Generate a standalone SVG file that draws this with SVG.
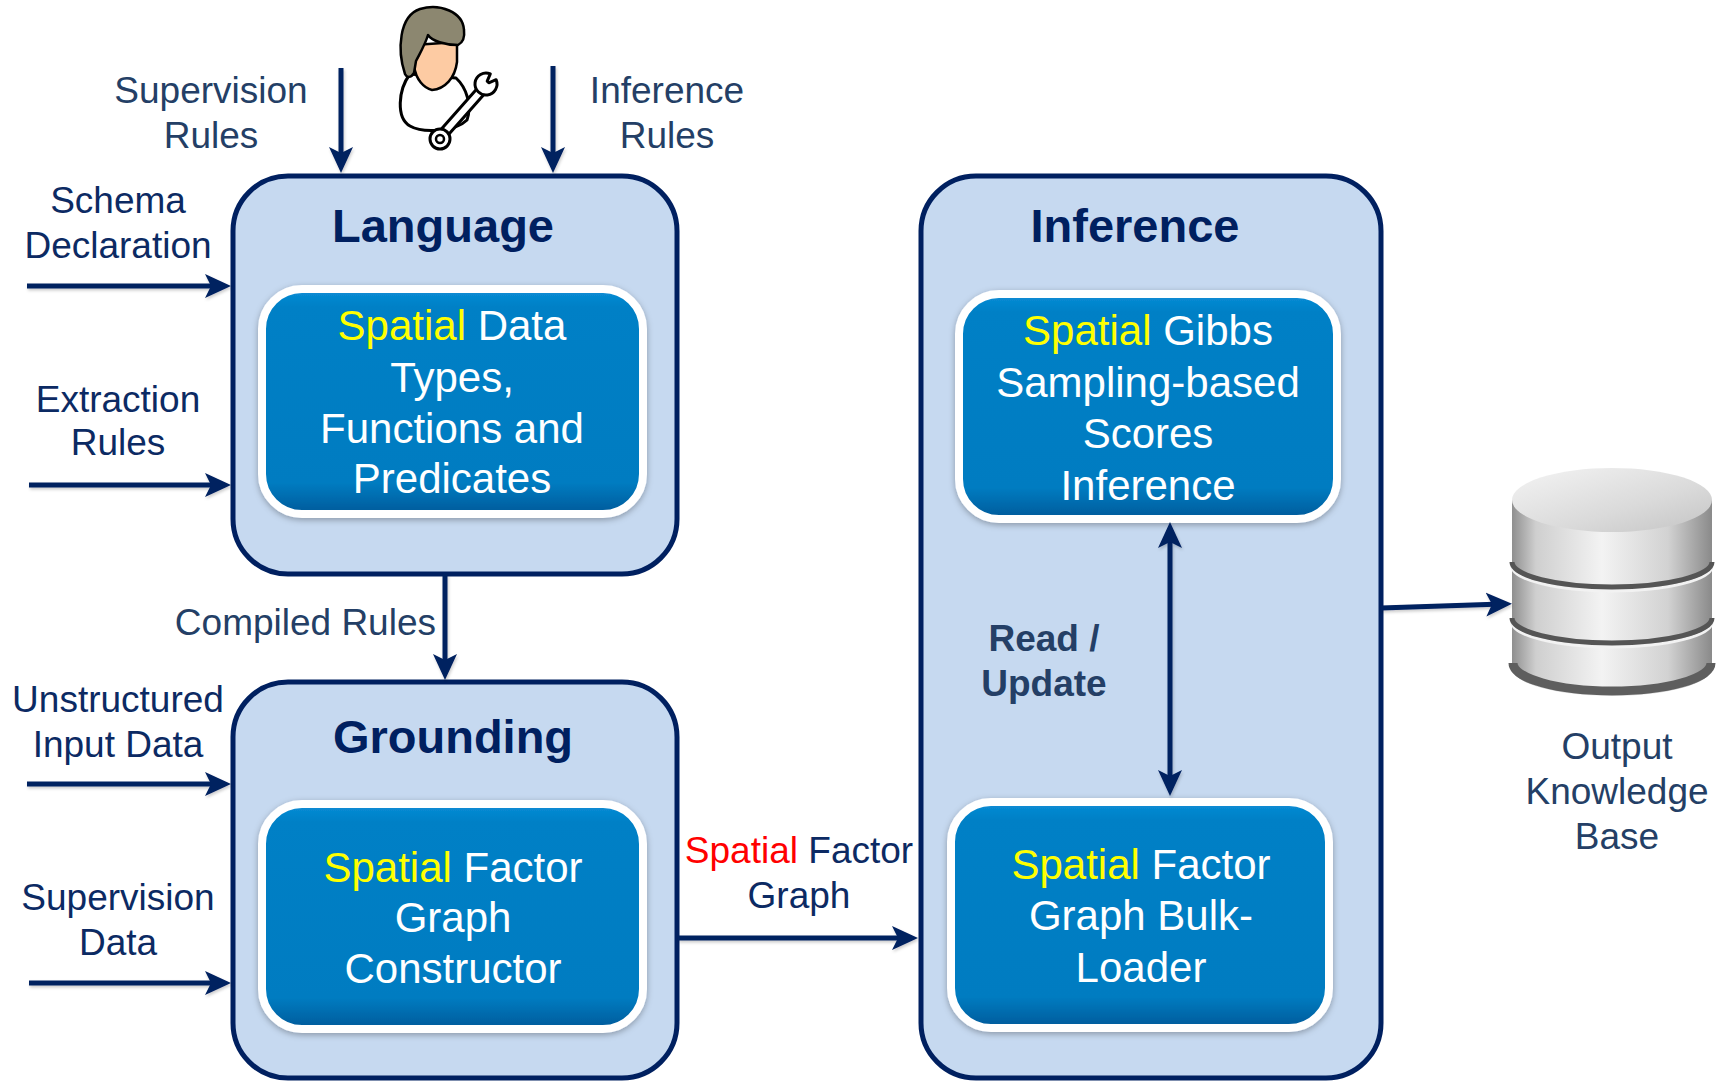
<svg xmlns="http://www.w3.org/2000/svg" width="1725" height="1083" viewBox="0 0 1725 1083">
  <defs>
    <style>
      .outer { fill:#C6D9F0; stroke:#002060; stroke-width:5; }
      .inner { fill:url(#blueGrad); stroke:#FFFFFF; stroke-width:8; filter:url(#soft); }
      .title { font-family:"Liberation Sans", Arial, sans-serif; font-weight:bold; font-size:47px; fill:#002060; text-anchor:middle; }
      .body { font-family:"Liberation Sans", Arial, sans-serif; font-size:42px; fill:#FFFFFF; text-anchor:middle; }
      .hl { fill:#FFFF00; }
      .lbl { font-family:"Liberation Sans", Arial, sans-serif; font-size:37px; fill:#0C2A63; text-anchor:middle; }
      .lbl-soft { fill:#243F66; }
      .bold { font-weight:bold; }
      .conn { fill:none; stroke:#002060; stroke-width:5; marker-end:url(#arr); }
    </style>
    <linearGradient id="blueGrad" x1="0" y1="0" x2="0" y2="1">
      <stop offset="0" stop-color="#0A8DD6"/>
      <stop offset="0.08" stop-color="#0080C6"/>
      <stop offset="0.86" stop-color="#007CC1"/>
      <stop offset="1" stop-color="#005A9A"/>
    </linearGradient>
    <filter id="soft" x="-10%" y="-10%" width="120%" height="125%">
      <feDropShadow dx="0" dy="2" stdDeviation="3" flood-color="#000" flood-opacity="0.3"/>
    </filter>
    <filter id="lineShadow" x="-5%" y="-20%" width="110%" height="140%">
      <feDropShadow dx="1" dy="2" stdDeviation="1.5" flood-color="#000" flood-opacity="0.2"/>
    </filter>
    <marker id="arr" markerUnits="userSpaceOnUse" markerWidth="26" markerHeight="26" viewBox="0 0 26 26" refX="16" refY="13" orient="auto-start-reverse">
      <path d="M0,1 L26,13 L0,25 L6,13 Z" fill="#002060"/>
    </marker>
    <linearGradient id="cylBody" x1="0" y1="0" x2="1" y2="0">
      <stop offset="0" stop-color="#8F8F8F"/>
      <stop offset="0.12" stop-color="#CFCFCF"/>
      <stop offset="0.45" stop-color="#F3F3F3"/>
      <stop offset="0.78" stop-color="#D2D2D2"/>
      <stop offset="1" stop-color="#8A8A8A"/>
    </linearGradient>
    <linearGradient id="cylTop" x1="0" y1="0" x2="1" y2="1">
      <stop offset="0" stop-color="#F4F4F4"/>
      <stop offset="0.6" stop-color="#DADADA"/>
      <stop offset="1" stop-color="#C4C4C4"/>
    </linearGradient>
  </defs>

  <rect width="1725" height="1083" fill="#FFFFFF"/>

  <!-- Language stage -->
  <g id="language">
    <rect class="outer" x="233" y="176" width="444" height="398" rx="55"/>
    <text class="title" x="443" y="242">Language</text>
    <rect class="inner" x="262" y="289" width="381" height="225" rx="40"/>
    <text class="body" x="452" y="340"><tspan class="hl">Spatial</tspan> Data</text>
    <text class="body" x="452" y="392">Types,</text>
    <text class="body" x="452" y="443">Functions and</text>
    <text class="body" x="452" y="493">Predicates</text>
  </g>

  <!-- Grounding stage -->
  <g id="grounding">
    <rect class="outer" x="233" y="682" width="444" height="396" rx="55"/>
    <text class="title" x="453" y="753">Grounding</text>
    <rect class="inner" x="262" y="804" width="381" height="225" rx="40"/>
    <text class="body" x="453" y="882"><tspan class="hl">Spatial</tspan> Factor</text>
    <text class="body" x="453" y="932">Graph</text>
    <text class="body" x="453" y="983">Constructor</text>
  </g>

  <!-- Inference stage -->
  <g id="inference">
    <rect class="outer" x="921" y="176" width="460" height="902" rx="55"/>
    <text class="title" x="1135" y="242">Inference</text>
  </g>
  <g id="gibbs">
    <rect class="inner" x="959" y="294" width="378" height="225" rx="40"/>
    <text class="body" x="1148" y="345"><tspan class="hl">Spatial</tspan> Gibbs</text>
    <text class="body" x="1148" y="397">Sampling-based</text>
    <text class="body" x="1148" y="448">Scores</text>
    <text class="body" x="1148" y="500">Inference</text>
  </g>
  <g id="bulkloader">
    <rect class="inner" x="951" y="802" width="378" height="226" rx="40"/>
    <text class="body" x="1141" y="879"><tspan class="hl">Spatial</tspan> Factor</text>
    <text class="body" x="1141" y="930">Graph Bulk-</text>
    <text class="body" x="1141" y="982">Loader</text>
  </g>

  <!-- Developer figure with wrench -->
  <g id="developer" stroke-linejoin="round">
    <path d="M410,74 C398,90 396,118 410,126 C424,134 456,131 467,120 C472,106 467,88 456,78 Z" fill="#FFFFFF" stroke="#000" stroke-width="3"/>
    <path d="M414,45 L414,66 C416,80 424,88 432,90 C445,89 455,78 457,62 L457,42 Z" fill="#FDCBA3" stroke="#000" stroke-width="2.5"/>
    <path d="M405,74 C397,50 399,16 420,9 C440,3 463,12 464,30 C465,38 462,43 458,45 C445,45 432,41 428,35 C425,45 420,53 416,61 L414,73 C411,78 407,78 405,74 Z" fill="#8C8770" stroke="#000" stroke-width="2.5"/>
    <line x1="443" y1="134" x2="481" y2="91" stroke="#000" stroke-width="12" stroke-linecap="round"/>
    <line x1="443" y1="134" x2="481" y2="91" stroke="#FFF" stroke-width="6" stroke-linecap="round"/>
    <path d="M496.1,79.7 A11 11 0 1 1 490.3,73.9 L487.2,81.2 L488.8,82.8 Z" fill="#FFF" stroke="#000" stroke-width="3"/>
    <circle cx="440" cy="139" r="10" fill="#FFF" stroke="#000" stroke-width="3"/>
    <circle cx="440" cy="139" r="4" fill="#FFF" stroke="#000" stroke-width="2.5"/>
  </g>

  <!-- Output knowledge base cylinder -->
  <g id="knowledge-base">
    <path d="M1512,500 L1512,668 A100,28 0 0 0 1712,668 L1712,500 Z" fill="url(#cylBody)"/>
    <path d="M1513,663 A99,28 0 0 0 1711,663" fill="none" stroke="#5E5E5E" stroke-width="9"/>
    <path d="M1512,566 A100,25 0 0 0 1712,566" fill="none" stroke="#F2F2F2" stroke-width="3"/>
    <path d="M1512,562 A100,25 0 0 0 1712,562" fill="none" stroke="#555555" stroke-width="5"/>
    <path d="M1512,622 A100,25 0 0 0 1712,622" fill="none" stroke="#F2F2F2" stroke-width="3"/>
    <path d="M1512,618 A100,25 0 0 0 1712,618" fill="none" stroke="#555555" stroke-width="5"/>
    <ellipse cx="1612" cy="500" rx="100" ry="32" fill="url(#cylTop)"/>
    <text class="lbl lbl-soft" x="1617" y="759">Output</text>
    <text class="lbl lbl-soft" x="1617" y="804">Knowledge</text>
    <text class="lbl lbl-soft" x="1617" y="849">Base</text>
  </g>

  <!-- Input and flow labels -->
  <g id="labels">
    <text class="lbl lbl-soft" x="211" y="103">Supervision</text>
    <text class="lbl lbl-soft" x="211" y="148">Rules</text>
    <text class="lbl lbl-soft" x="667" y="103">Inference</text>
    <text class="lbl lbl-soft" x="667" y="148">Rules</text>
    <text class="lbl" x="118" y="213">Schema</text>
    <text class="lbl" x="118" y="258">Declaration</text>
    <text class="lbl" x="118" y="412">Extraction</text>
    <text class="lbl" x="118" y="455">Rules</text>
    <text class="lbl" x="118" y="712">Unstructured</text>
    <text class="lbl" x="118" y="757">Input Data</text>
    <text class="lbl" x="118" y="910">Supervision</text>
    <text class="lbl" x="118" y="955">Data</text>
    <text class="lbl lbl-soft" x="436" y="635" style="text-anchor:end">Compiled Rules</text>
    <text class="lbl" x="799" y="863"><tspan fill="#FF0000">Spatial</tspan> Factor</text>
    <text class="lbl" x="799" y="908">Graph</text>
    <text class="lbl lbl-soft bold" x="1044" y="651">Read /</text>
    <text class="lbl lbl-soft bold" x="1044" y="696">Update</text>
  </g>

  <!-- Connectors -->
  <g id="connectors" filter="url(#lineShadow)">
    <line class="conn" x1="341" y1="68" x2="341" y2="163"/>
    <line class="conn" x1="553" y1="66" x2="553" y2="163"/>
    <line class="conn" x1="27" y1="286" x2="221" y2="286"/>
    <line class="conn" x1="29" y1="485" x2="221" y2="485"/>
    <line class="conn" x1="27" y1="784" x2="221" y2="784"/>
    <line class="conn" x1="29" y1="983" x2="221" y2="983"/>
    <line class="conn" x1="445" y1="574" x2="445" y2="670"/>
    <line class="conn" x1="678" y1="938" x2="908" y2="938"/>
    <line class="conn" x1="1170" y1="532" x2="1170" y2="786" marker-start="url(#arr)"/>
    <line class="conn" x1="1381" y1="608" x2="1502" y2="604"/>
  </g>
</svg>
